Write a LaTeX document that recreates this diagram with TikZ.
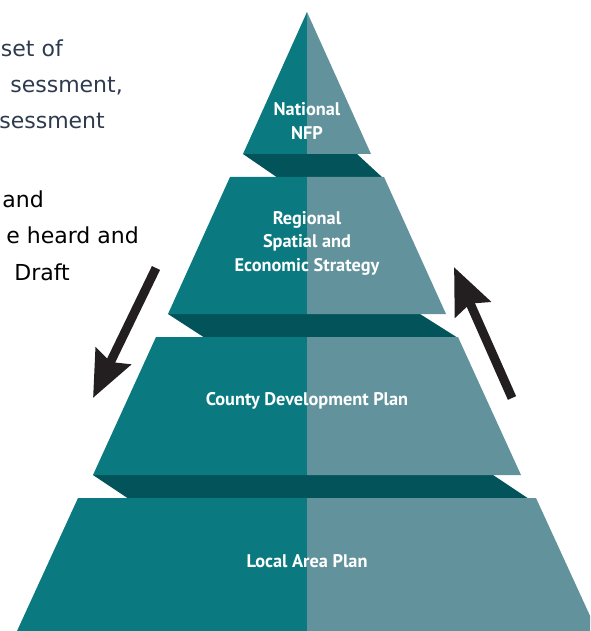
\documentclass[tikz,border=0pt]{standalone}
\usepackage{fontspec}
\usetikzlibrary{arrows.meta}
\newfontfamily\pyrfont{PT Sans}
\newfontfamily\notefont{DejaVu Sans}
\definecolor{tealdark}{RGB}{11,122,128}
\definecolor{teallight}{RGB}{98,147,156}
\definecolor{tealshade}{RGB}{2,84,90}
\definecolor{noteblue}{RGB}{46,59,78}
\definecolor{arrowblack}{RGB}{35,31,32}
\tikzset{
	bigarrow/.style={draw=arrowblack,line width=9pt,-{Stealth[length=46pt,width=38pt,inset=6pt]}},
	levellabel/.style={text=white,align=center,inner sep=0pt,font=\pyrfont\bfseries\fontsize{18.3}{23.5}\selectfont},
	noteline/.style={anchor=base east,inner sep=0pt,font=\notefont\fontsize{22}{26}\selectfont}
}

\begin{document}
\begin{tikzpicture}[x=1pt,y=-1pt]
	\clip (0,0) rectangle (590,631);
	
	% dark bands between the levels
	\fill[tealshade] (243,154) -- (357,154) -- (383,178) -- (278,178) -- cycle;
	\fill[tealshade] (168,314) -- (420,314) -- (458,338) -- (205,338) -- cycle;
	\fill[tealshade] (93,475) -- (493,475) -- (529,499) -- (129,499) -- cycle;
	
	% levels: y top / half width top / y bottom / half width bottom
	\foreach \yt/\wt/\yb/\wb in {12/0/154/64, 177/77/314/139, 337/151/475/214, 498/229/631/290}{
		\fill[tealdark] ({307-\wt},\yt) -- (307,\yt) -- (307,\yb) -- ({307-\wb},\yb) -- cycle;
		\fill[teallight] (307,\yt) -- ({307+\wt},\yt) -- ({307+\wb},\yb) -- (307,\yb) -- cycle;
	}
	
	\node[levellabel] (national) at (307,121) {National\\NFP};
	\node[levellabel] (regional) at (307,243) {Regional\\Spatial and\\Economic Strategy};
	\node[levellabel] (county) at (307,401) {County Development Plan};
	\node[levellabel] (local) at (307,561) {Local Area Plan};
	
	\node[noteline,text=noteblue] (note1) at (63,57) {set of};
	\node[noteline,text=noteblue] (note2) at (123,93) {sessment,};
	\node[noteline,text=noteblue] (note3) at (105,129) {sessment};
	\node[noteline] (note4) at (44,207) {and};
	\node[noteline] (note5) at (139,243) {e heard and};
	\node[noteline] (note6) at (70,280) {Draft};
	
	\coordinate (downtail) at (156,268);
	\coordinate (downtip) at (93,398);
	\coordinate (uptail) at (512,398);
	\coordinate (uptip) at (454,267);
	\draw[bigarrow] (downtail) -- (downtip);
	\draw[bigarrow] (uptail) -- (uptip);
\end{tikzpicture}
\end{document}
